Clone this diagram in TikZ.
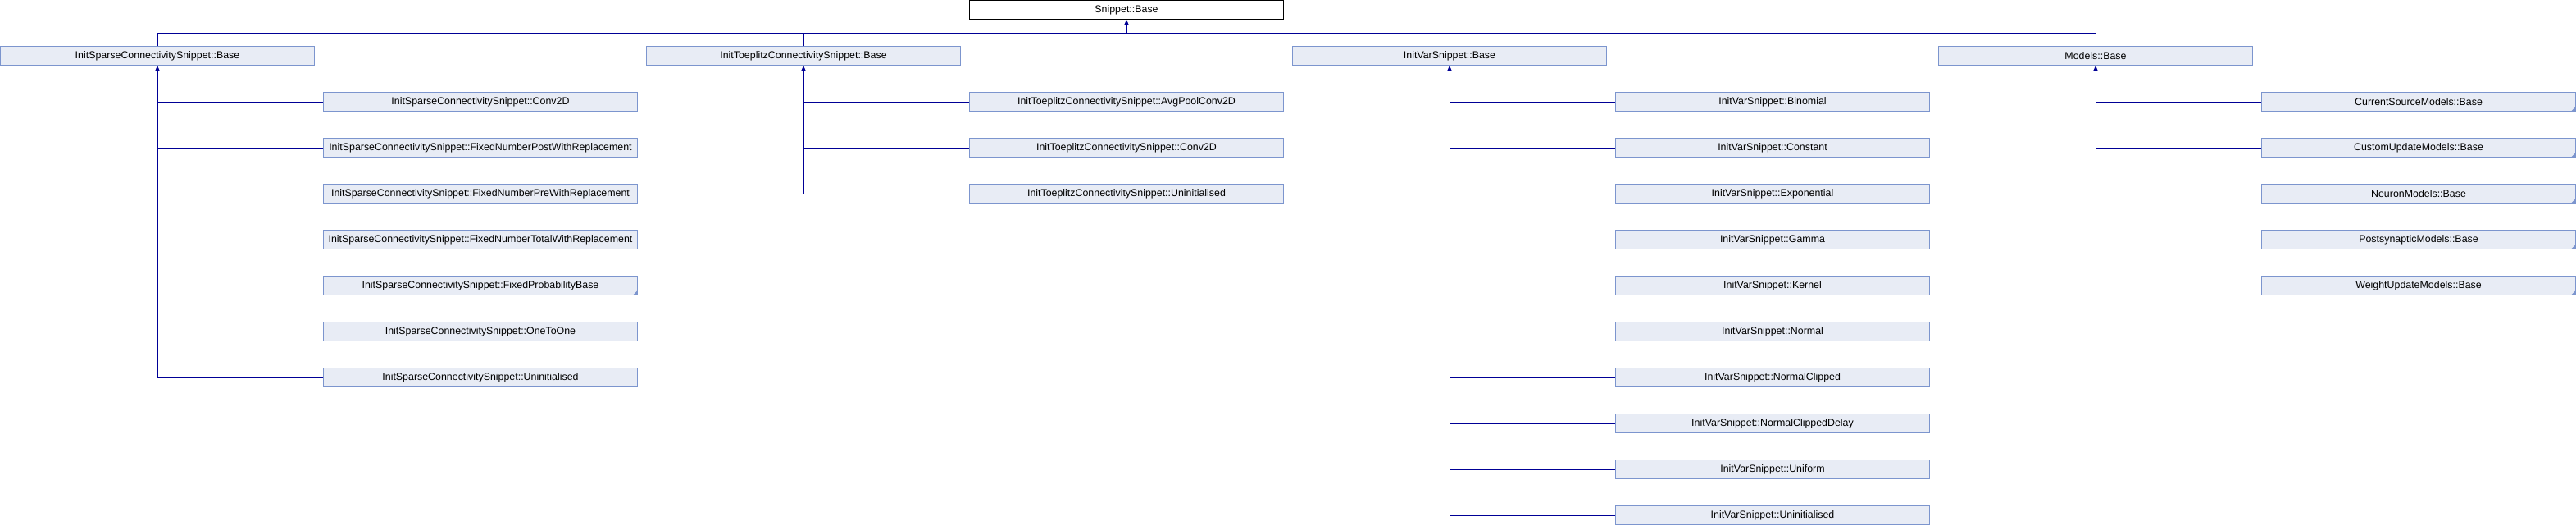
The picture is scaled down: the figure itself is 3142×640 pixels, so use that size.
\documentclass[tikz,border=0pt]{standalone}
\usepackage{fontspec}
\setmainfont{Liberation Sans}
\usetikzlibrary{arrows.meta}
\definecolor{boxfill}{RGB}{232,236,245}
\definecolor{boxborder}{RGB}{124,149,206}
\definecolor{linecol}{RGB}{0,0,150}
\tikzset{
  cls/.style={draw=boxborder, fill=boxfill, line width=1pt, minimum width=383pt, minimum height=23pt, inner sep=0pt, font=\fontsize{12.4}{14}\selectfont, text=black},
  rootbox/.style={cls, draw=black, fill=white},
  conn/.style={draw=linecol, line width=1pt},
  inh/.style={conn, {Triangle[width=5pt,length=6pt]}-},
  moremark/.style={fill=boxborder}
}
\begin{document}
\begin{tikzpicture}[x=1pt,y=-1pt]
\useasboundingbox (0,0) rectangle (3142,640);
% root
\node[rootbox] (root) at (1374,12) {Snippet::Base};
% level 1
\node[cls] (sp) at (192,68) {InitSparseConnectivitySnippet::Base};
\node[cls] (tp) at (980,68) {InitToeplitzConnectivitySnippet::Base};
\node[cls] (iv) at (1768,68) {InitVarSnippet::Base};
\node[cls] (mo) at (2556,68) {Models::Base};
% sparse children
\node[cls] (sp1) at (586,124) {InitSparseConnectivitySnippet::Conv2D};
\node[cls] (sp2) at (586,180) {InitSparseConnectivitySnippet::FixedNumberPostWithReplacement};
\node[cls] (sp3) at (586,236) {InitSparseConnectivitySnippet::FixedNumberPreWithReplacement};
\node[cls] (sp4) at (586,292) {InitSparseConnectivitySnippet::FixedNumberTotalWithReplacement};
\node[cls] (sp5) at (586,348) {InitSparseConnectivitySnippet::FixedProbabilityBase};
\node[cls] (sp6) at (586,404) {InitSparseConnectivitySnippet::OneToOne};
\node[cls] (sp7) at (586,460) {InitSparseConnectivitySnippet::Uninitialised};
% toeplitz children
\node[cls] (tp1) at (1374,124) {InitToeplitzConnectivitySnippet::AvgPoolConv2D};
\node[cls] (tp2) at (1374,180) {InitToeplitzConnectivitySnippet::Conv2D};
\node[cls] (tp3) at (1374,236) {InitToeplitzConnectivitySnippet::Uninitialised};
% initvar children
\node[cls] (iv1) at (2162,124) {InitVarSnippet::Binomial};
\node[cls] (iv2) at (2162,180) {InitVarSnippet::Constant};
\node[cls] (iv3) at (2162,236) {InitVarSnippet::Exponential};
\node[cls] (iv4) at (2162,292) {InitVarSnippet::Gamma};
\node[cls] (iv5) at (2162,348) {InitVarSnippet::Kernel};
\node[cls] (iv6) at (2162,404) {InitVarSnippet::Normal};
\node[cls] (iv7) at (2162,460) {InitVarSnippet::NormalClipped};
\node[cls] (iv8) at (2162,516) {InitVarSnippet::NormalClippedDelay};
\node[cls] (iv9) at (2162,572) {InitVarSnippet::Uniform};
\node[cls] (iv10) at (2162,628) {InitVarSnippet::Uninitialised};
% models children
\node[cls] (mo1) at (2950,124) {CurrentSourceModels::Base};
\node[cls] (mo2) at (2950,180) {CustomUpdateModels::Base};
\node[cls] (mo3) at (2950,236) {NeuronModels::Base};
\node[cls] (mo4) at (2950,292) {PostsynapticModels::Base};
\node[cls] (mo5) at (2950,348) {WeightUpdateModels::Base};
% corner marks (classes with further derived classes)
\foreach \n in {sp5,mo1,mo2,mo3,mo4,mo5}
  \fill[moremark] ([xshift=-6pt,yshift=0.5pt]\n.south east) -- ([xshift=-0.5pt,yshift=0.5pt]\n.south east) -- ([xshift=-0.5pt,yshift=6pt]\n.south east) -- cycle;
% root connections
\coordinate (bus) at (1374,40.5);
\draw[conn] (sp.north) |- (bus) -| (mo.north);
\draw[conn] (tp.north) |- (bus);
\draw[conn] (iv.north) |- (bus);
\draw[inh] (root.south) -- (bus);
% sparse
\draw[inh] (sp.south) -- (sp.south |- sp7.west);
\foreach \c in {sp1,sp2,sp3,sp4,sp5,sp6,sp7} \draw[conn] (sp.south |- \c.west) -- (\c.west);
% toeplitz
\draw[inh] (tp.south) -- (tp.south |- tp3.west);
\foreach \c in {tp1,tp2,tp3} \draw[conn] (tp.south |- \c.west) -- (\c.west);
% initvar
\draw[inh] (iv.south) -- (iv.south |- iv10.west);
\foreach \c in {iv1,iv2,iv3,iv4,iv5,iv6,iv7,iv8,iv9,iv10} \draw[conn] (iv.south |- \c.west) -- (\c.west);
% models
\draw[inh] (mo.south) -- (mo.south |- mo5.west);
\foreach \c in {mo1,mo2,mo3,mo4,mo5} \draw[conn] (mo.south |- \c.west) -- (\c.west);
\end{tikzpicture}
\end{document}
